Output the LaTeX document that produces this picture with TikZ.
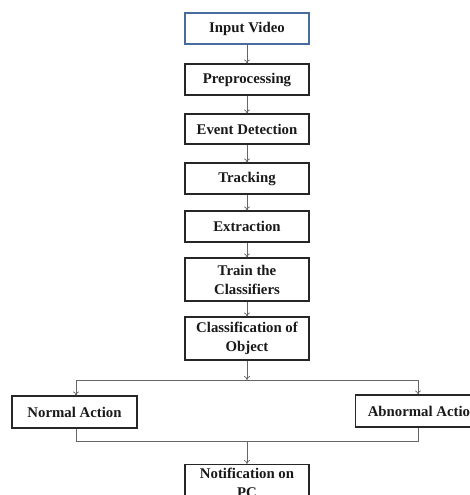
\documentclass[tikz,border=0pt]{standalone}
\usepackage{fontspec}
\setmainfont{Liberation Serif}
\usetikzlibrary{arrows.meta}
\definecolor{steel}{RGB}{72,108,158}
\begin{document}
\begin{tikzpicture}[x=1pt,y=-1pt,
  box/.style={draw=black!85,line width=1.1pt,minimum width=124pt,inner sep=0pt,align=center,
    font=\fontsize{14.8}{19}\selectfont\bfseries,text=black!90},
  conn/.style={draw=black!60,line width=0.7pt},
  arr/.style={conn,-{To[length=4pt,width=6pt]}}]
\useasboundingbox (0,0) rectangle (470,495);
\node[box,draw=steel,minimum height=31pt] (in) at (247,28.5) {Input Video};
\node[box,minimum height=31pt] (pre) at (247,79.5) {Preprocessing};
\node[box,minimum height=30pt] (ev) at (247,129) {Event Detection};
\node[box,minimum height=31pt] (tr) at (247,178.5) {Tracking};
\node[box,minimum height=31pt] (ex) at (247,226.5) {Extraction};
\node[box,minimum height=43pt] (tc) at (247,279.5) {Train the\\Classifiers};
\node[box,minimum height=43pt] (co) at (247,338.5) {Classification of\\Object};
\node[box,minimum width=125pt,minimum height=32pt] (na) at (74.5,412) {Normal Action};
\node[box,minimum width=135pt,minimum height=32pt,anchor=west] (aa) at (355,411) {Abnormal Action};
\node[box,inner ysep=4pt,text depth=30pt,anchor=north] (np) at (247,464) {Notification on\\PC};
\coordinate (split) at (247,380);
\coordinate (sl) at (76,380);
\coordinate (sr) at (418,380);
\coordinate (jl) at (76,441);
\coordinate (jr) at (418,441);
\coordinate (join) at (247,441);
\draw[arr] (in) -- (pre);
\draw[arr] (pre) -- (ev);
\draw[arr] (ev) -- (tr);
\draw[arr] (tr) -- (ex);
\draw[arr] (ex) -- (tc);
\draw[arr] (tc) -- (co);
\draw[arr] (co) -- (split);
\draw[conn] (sl) -- (sr);
\draw[arr] (sl) -- (sl |- na.north);
\draw[arr] (sr) -- (sr |- aa.north);
\draw[conn] (sl |- na.south) -- (jl) -- (jr) -- (sr |- aa.south);
\draw[arr] (join) -- (np);
\end{tikzpicture}
\end{document}
